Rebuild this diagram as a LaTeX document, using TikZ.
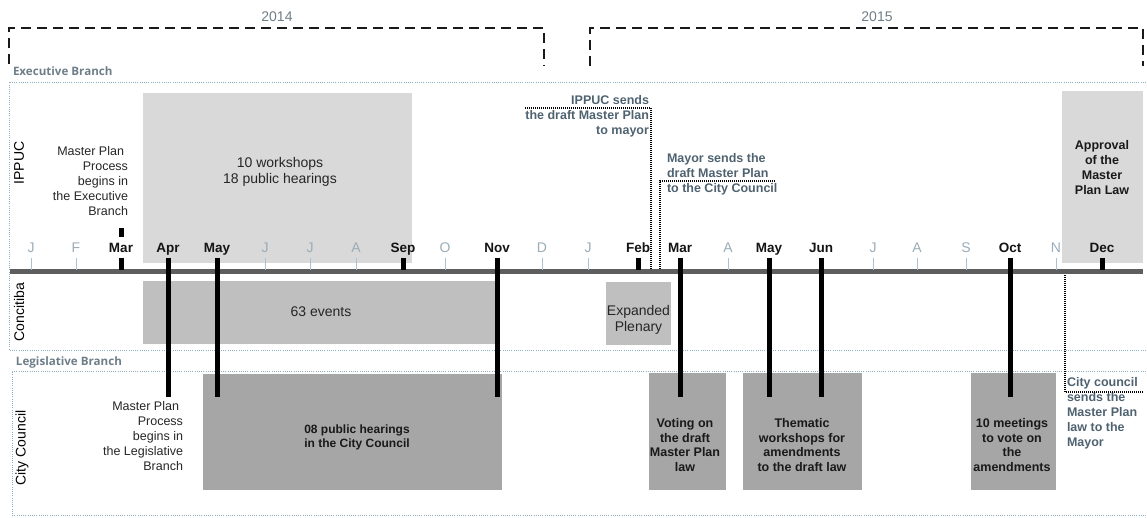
\documentclass[tikz,border=0pt]{standalone}
\usepackage{fontspec}
\setmainfont{Liberation Sans}
\newfontfamily\brfont{Open Sans}
\definecolor{boxA}{HTML}{D9D9D9}
\definecolor{boxB}{HTML}{BFBFBF}
\definecolor{boxC}{HTML}{A6A6A6}
\definecolor{tlc}{HTML}{5E5E5E}
\definecolor{minorc}{HTML}{9AACB8}
\definecolor{tickc}{HTML}{A9C3D2}
\definecolor{regionc}{HTML}{8CB0C3}
\definecolor{branchc}{HTML}{6E7E88}
\definecolor{yearc}{HTML}{6F7D86}
\definecolor{notec}{HTML}{4F6270}
\definecolor{txtc}{HTML}{262626}
\newcommand\fsA{\fontsize{14}{16}\selectfont}
\newcommand\fsB{\fontsize{12.5}{15}\selectfont}
\newcommand\fsC{\fontsize{12.5}{14.7}\selectfont}
\begin{document}
\begin{tikzpicture}[x=1pt,y=-1pt,
  every node/.style={inner sep=0pt, outer sep=0pt},
  yearlbl/.style={font=\fsA, text=yearc},
  bracket/.style={draw=black!90, line width=2.4pt, dash pattern=on 10pt off 6pt},
  region/.style={draw=regionc, line width=0.9pt, dash pattern=on 1pt off 1.2pt},
  branch/.style={font=\brfont\bfseries\fontsize{11.6}{13}\selectfont, text=branchc, anchor=west},
  rowlbl/.style={font=\fsA, rotate=90, text=black},
  minor/.style={font=\fsA, text=minorc, anchor=base},
  major/.style={font=\bfseries\fontsize{13.5}{16}\selectfont, text=black!92, anchor=base},
  tick/.style={draw=tickc, line width=0.8pt},
  bar/.style={draw=black, line width=5pt},
  timeline/.style={draw=tlc, line width=5pt},
  lightbox/.style={fill=boxA, draw=none},
  midbox/.style={fill=boxB, draw=none},
  darkbox/.style={fill=boxC, draw=none},
  boxtxt/.style={font=\fsA, text=txtc, align=center},
  boldtxt/.style={font=\bfseries\fsC, text=black!90, align=center},
  sidetxt/.style={font=\fsB, text=txtc, align=right, anchor=east},
  notetxt/.style={font=\bfseries\fsB, text=notec},
  note/.style={draw=black, line width=1.4pt, dash pattern=on 1pt off 1pt}
]
\useasboundingbox (0,0) rectangle (1147,518);

% year brackets
\node[yearlbl] (y14) at (277,17) {2014};
\node[yearlbl] (y15) at (877,17) {2015};
\draw[bracket] (9,64) -- (9,28) -- (544,28) -- (544,66);
\draw[bracket] (590,66) -- (590,28) -- (1143,28) -- (1143,66);

% regions
\node[branch] (exb) at (13,71) {Executive Branch};
\draw[region] (1146,82) -- (9,82) -- (9,350) -- (1146,350);
\node[branch] (lgb) at (16,362) {Legislative Branch};
\draw[region] (1146,371) -- (12,371) -- (12,515) -- (1146,515);

\node[rowlbl] (ippuc) at (19,163) {IPPUC};
\node[rowlbl] (conc) at (19,312) {Concitiba};
\node[rowlbl] (cc) at (22,448) {City Council};

% boxes
\node[lightbox, minimum width=269pt, minimum height=170pt] (wsbox) at (277.5,178) {};
\node[boxtxt] (wstxt) at (280,172) {10 workshops\\18 public hearings};
\node[lightbox, minimum width=81pt, minimum height=172pt] (apbox) at (1102.5,177) {};
\node[boldtxt, font=\bfseries\fsB] (aptxt) at (1102,167.5) {Approval\\of the\\Master\\Plan Law};
\node[midbox, minimum width=352pt, minimum height=63pt] (evbox) at (319,312.5) {};
\node[boxtxt] (evtxt) at (321,312) {63 events};
\node[midbox, minimum width=65pt, minimum height=63pt] (epbox) at (638.5,313.5) {};
\node[boxtxt] (eptxt) at (638.5,320) {Expanded\\Plenary};
\node[darkbox, minimum width=299pt, minimum height=116pt] (phbox) at (352.5,432) {};
\node[boldtxt, font=\bfseries\fontsize{12}{14}\selectfont] (phtxt) at (357,437) {08 public hearings\\in the City Council};
\node[darkbox, minimum width=77pt, minimum height=117pt] (vobox) at (687.5,431.5) {};
\node[boldtxt] (votxt) at (685,445) {Voting on\\the draft\\Master Plan\\law};
\node[darkbox, minimum width=119pt, minimum height=117pt] (thbox) at (802.5,431.5) {};
\node[boldtxt] (thtxt) at (802,445) {Thematic\\workshops for\\amendments\\to the draft law};
\node[darkbox, minimum width=85pt, minimum height=117pt] (mtbox) at (1013.5,431.5) {};
\node[boldtxt] (mttxt) at (1012,445) {10 meetings\\to vote on\\the\\amendments};

% side texts
\node[sidetxt] (mpexe) at (128,181) {Master Plan\hspace*{4pt}\\Process\\begins in\\the Executive\\Branch};
\node[sidetxt] (mpleg) at (183,436.5) {Master Plan\hspace*{4pt}\\Process\\begins in\\the Legislative\\Branch};

% timeline
\coordinate (tlL) at (10,272);
\coordinate (tlR) at (1143,272);
\draw[timeline] (tlL) -- (tlR);

% minor months
\foreach \x/\t/\n in {31/J/mJa, 76/F/mFe, 265/J/mJn, 310/J/mJl, 356/A/mAu, 445/O/mOc, 542/D/mDe, 588/J/mJa2, 728/A/mAp2, 873/J/mJl2, 917/A/mAu2, 966/S/mSe2, 1056/N/mNo2} {
  \node[minor] (\n) at (\x,253) {\t};
  \draw[tick] (\x,258) -- (\x,270);
}
% major months
\foreach \x/\t/\n in {121/Mar/mMa, 168/Apr/mAp, 217/May/mMy, 403/Sep/mSe, 497/Nov/mNo, 638/Feb/mFe2, 680/Mar/mMa2, 769/May/mMy2, 821/Jun/mJn2, 1010/Oct/mOc2, 1102/Dec/mDe2} {
  \node[major] (\n) at (\x,253) {\t};
}

% bars
\draw[bar] (121,228) -- (121,237);
\foreach \x in {121,403,638,1102} { \draw[bar] (\x,258) -- (\x,270); }
\foreach \x in {168,217,497,680,769,821,1010} { \draw[bar] (\x,258) -- (\x,397); }

% notes
\node[notetxt, align=right, anchor=east] (n1) at (649,116.5) {IPPUC sends\\the draft Master Plan\\to mayor};
\coordinate (n1a) at (525,108);
\coordinate (n1b) at (651,270);
\draw[note] (n1a) -| (n1b);
\node[notetxt, align=left, anchor=west] (n2) at (667,174) {Mayor sends the\\draft Master Plan\\to the City Council};
\coordinate (n2a) at (775,181);
\coordinate (n2b) at (660,270);
\draw[note] (n2a) -| (n2b);
\node[notetxt, align=left, anchor=west] (n3) at (1067,413) {City council\\sends the\\Master Plan\\law to the\\Mayor};
\coordinate (n3a) at (1143,392);
\coordinate (n3b) at (1065,275);
\draw[note] (n3a) -| (n3b);
\end{tikzpicture}
\end{document}
